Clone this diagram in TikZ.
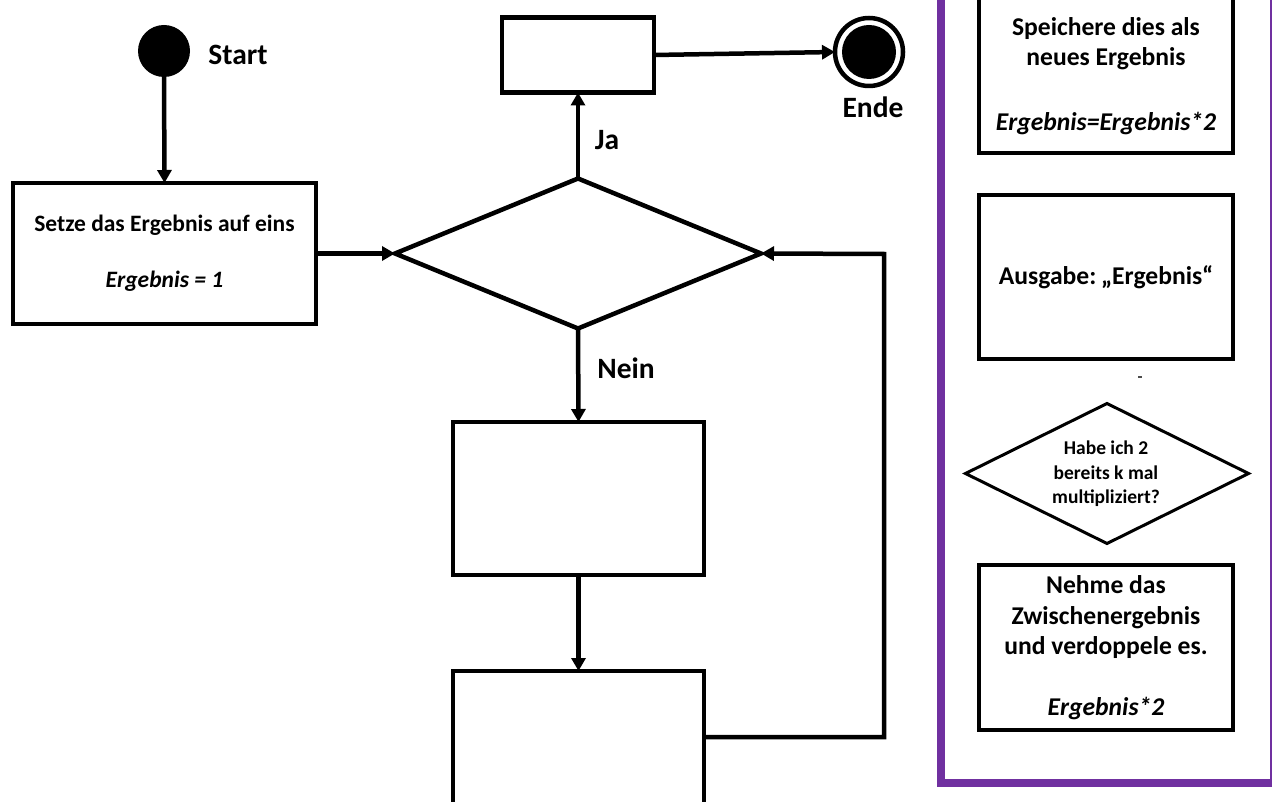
\documentclass[tikz,border=0pt]{standalone}
\usepackage{fontspec}
\setmainfont{Carlito}
\usetikzlibrary{arrows.meta,shapes.geometric}
\definecolor{panelpurple}{HTML}{7030A0}
\begin{document}
\begin{tikzpicture}[x=1pt,y=-1pt,
  box/.style={draw, line width=4.5pt, inner sep=0pt, outer sep=0pt, align=center},
  decision/.style={draw, shape=diamond, inner sep=0pt, outer sep=0pt},
  conn/.style={line width=4.5pt, -{Triangle[length=13pt,width=14pt]}},
  lbl/.style={font=\fontsize{29.5}{34}\selectfont\bfseries, inner sep=0pt},
  tmain/.style={font=\fontsize{23.5}{28}\selectfont\bfseries, align=center},
  tpanel/.style={font=\fontsize{25.6}{30.5}\selectfont\bfseries, align=center, inner sep=0pt},
  tsmall/.style={font=\fontsize{19.5}{24.5}\selectfont\bfseries, align=center, inner sep=0pt}
]
\useasboundingbox (0,0) rectangle (1272,802);
\clip (0,0) rectangle (1272,802);
\fill[white] (0,0) rectangle (1272,802);

% ---- main flow ----
\node[circle, fill=black, minimum size=52pt, inner sep=0pt, outer sep=0pt] (start) at (164,51) {};
\node[lbl] (startlbl) at (238,55) {Start};

\node[box, tmain, minimum width=303pt, minimum height=141pt] (set) at (164.5,253.5)
  {Setze das Ergebnis auf eins\\[28pt]\textit{Ergebnis = 1}};

\node[decision, line width=4.5pt, minimum width=366pt, minimum height=150pt] (dec) at (578,253.5) {};

\node[box, minimum width=152pt, minimum height=75pt] (top) at (578,55) {};

\node[circle, draw, line width=4.5pt, minimum size=68pt, inner sep=0pt, outer sep=0pt] (ende) at (869,52) {};
\node[circle, fill=black, minimum size=54pt, inner sep=0pt] (endedot) at (ende.center) {};
\node[lbl] (endelbl) at (873,107) {Ende};

\node[box, minimum width=251pt, minimum height=153pt] (b3) at (578.5,498.5) {};
\node[box, minimum width=251pt, minimum height=188pt] (b4) at (578.5,765) {};

\coordinate (loopa) at (884,737);
\coordinate (loopb) at (884,254);

\draw[conn] (start.south) -- (set.north);
\draw[conn] (set.east) -- (dec.west);
\draw[conn] (dec.north) -- (top.south);
\node[lbl] (ja) at (607,140) {Ja};
\draw[conn] (top.east) -- (ende.west);
\draw[conn] (dec.south) -- (b3.north);
\node[lbl] (nein) at (626,368) {Nein};
\draw[conn] (b3.south) -- (b4.north);
\draw[conn] (b4.east |- loopa) -- (loopa) -- (loopb) -- (dec.east);

% ---- side panel ----
\node[draw=panelpurple, line width=8pt, minimum width=333pt, minimum height=803pt, inner sep=0pt, outer sep=0pt] (panel) at (1107.5,381.5) {};

\node[box, minimum width=254pt, minimum height=173pt] (pa) at (1106,66.5) {};
\node[tpanel] (patext) at (1106,76) {Speichere dies als\\neues Ergebnis\\[34pt]\textit{Ergebnis=Ergebnis*2}};

\node[box, tpanel, minimum width=254pt, minimum height=164pt] (pb) at (1106,277) {Ausgabe:\hspace{-3pt} „Ergebnis“};

\coordinate (dasha) at (1138,377);
\coordinate (dashb) at (1142,377);
\draw[line width=1.5pt, black!70] (dasha) -- (dashb);

\node[decision, line width=3pt, minimum width=283pt, minimum height=140pt] (pd) at (1107,473.5) {};
\node[tsmall] (pdtext) at (1106,474) {Habe ich 2\\bereits k mal\\multipliziert?};

\node[box, tpanel, minimum width=254pt, minimum height=165pt] (pc) at (1106,647.5)
  {Nehme das\\Zwischenergebnis\\und verdoppele es.\\[30pt]\textit{Ergebnis*2}};
\end{tikzpicture}
\end{document}
